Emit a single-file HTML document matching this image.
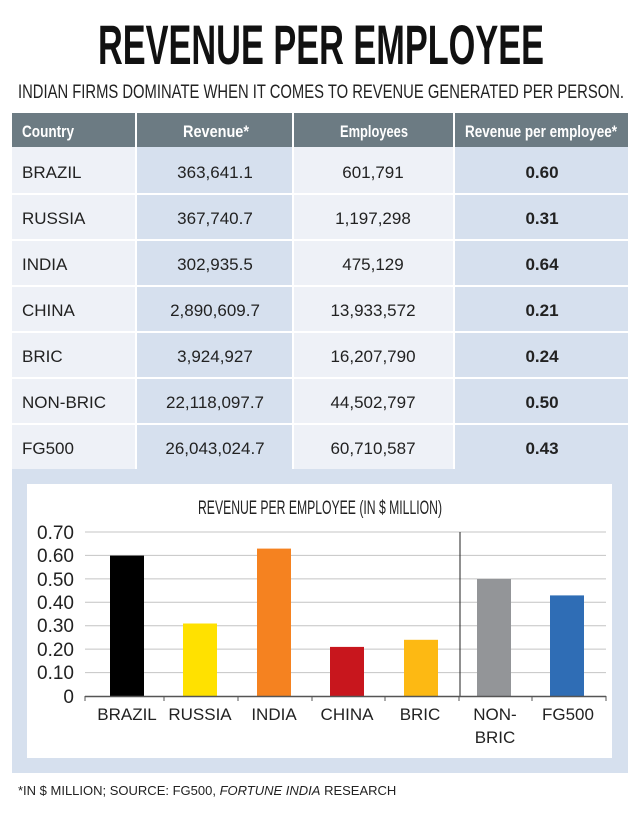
<!DOCTYPE html>
<html><head><meta charset="utf-8"><style>body{margin:0;background:#fff}svg{display:block}</style></head><body>
<svg width="640" height="821" viewBox="0 0 640 821" xmlns="http://www.w3.org/2000/svg" font-family="Liberation Sans, sans-serif">
<rect width="640" height="821" fill="#fff"/>
<text x="98" y="64" font-size="56" font-weight="bold" textLength="446" lengthAdjust="spacingAndGlyphs" fill="#111">REVENUE PER EMPLOYEE</text>
<text x="18" y="98" font-size="19" textLength="606" lengthAdjust="spacingAndGlyphs" fill="#222">INDIAN FIRMS DOMINATE WHEN IT COMES TO REVENUE GENERATED PER PERSON.</text>
<rect x="12" y="113" width="616" height="34" fill="#6c7b83"/>
<g fill="#fff" font-size="17" font-weight="bold">
<text x="22" y="137" textLength="52" lengthAdjust="spacingAndGlyphs">Country</text>
<text x="183" y="137" textLength="66" lengthAdjust="spacingAndGlyphs">Revenue*</text>
<text x="340" y="137" textLength="68" lengthAdjust="spacingAndGlyphs">Employees</text>
<text x="465" y="137" textLength="152" lengthAdjust="spacingAndGlyphs">Revenue per employee*</text>
</g>
<rect x="12" y="147" width="616" height="322" fill="#eef1f7"/>
<rect x="137" y="147" width="156" height="322" fill="#d6e0ee"/>
<rect x="455" y="147" width="173" height="322" fill="#d6e0ee"/>
<g fill="#fff">
<rect x="135" y="113" width="2" height="356"/><rect x="292" y="113" width="2" height="356"/><rect x="453" y="113" width="2" height="356"/>
<rect x="12" y="193" width="616" height="2"/><rect x="12" y="239" width="616" height="2"/><rect x="12" y="285" width="616" height="2"/><rect x="12" y="331" width="616" height="2"/><rect x="12" y="377" width="616" height="2"/><rect x="12" y="423" width="616" height="2"/>
</g>
<g font-size="17" fill="#222">
<g transform="translate(0,178)"><text x="22">BRAZIL</text><text x="215" text-anchor="middle">363,641.1</text><text x="373" text-anchor="middle">601,791</text><text x="542" text-anchor="middle" font-weight="bold">0.60</text></g>
<g transform="translate(0,224)"><text x="22">RUSSIA</text><text x="215" text-anchor="middle">367,740.7</text><text x="373" text-anchor="middle">1,197,298</text><text x="542" text-anchor="middle" font-weight="bold">0.31</text></g>
<g transform="translate(0,270)"><text x="22">INDIA</text><text x="215" text-anchor="middle">302,935.5</text><text x="373" text-anchor="middle">475,129</text><text x="542" text-anchor="middle" font-weight="bold">0.64</text></g>
<g transform="translate(0,316)"><text x="22">CHINA</text><text x="215" text-anchor="middle">2,890,609.7</text><text x="373" text-anchor="middle">13,933,572</text><text x="542" text-anchor="middle" font-weight="bold">0.21</text></g>
<g transform="translate(0,362)"><text x="22">BRIC</text><text x="215" text-anchor="middle">3,924,927</text><text x="373" text-anchor="middle">16,207,790</text><text x="542" text-anchor="middle" font-weight="bold">0.24</text></g>
<g transform="translate(0,408)"><text x="22">NON-BRIC</text><text x="215" text-anchor="middle">22,118,097.7</text><text x="373" text-anchor="middle">44,502,797</text><text x="542" text-anchor="middle" font-weight="bold">0.50</text></g>
<g transform="translate(0,454)"><text x="22">FG500</text><text x="215" text-anchor="middle">26,043,024.7</text><text x="373" text-anchor="middle">60,710,587</text><text x="542" text-anchor="middle" font-weight="bold">0.43</text></g>
</g>
<rect x="12" y="469" width="616" height="304" fill="#d6e0ee"/>
<rect x="27" y="484" width="585" height="274" fill="#fff"/>
<text x="320" y="514" font-size="19" text-anchor="middle" textLength="244" lengthAdjust="spacingAndGlyphs" fill="#222">REVENUE PER EMPLOYEE (IN $ MILLION)</text>
<g stroke="#c4c4c4" stroke-width="1">
<line x1="85" y1="532" x2="606" y2="532"/><line x1="85" y1="555.4" x2="606" y2="555.4"/><line x1="85" y1="578.9" x2="606" y2="578.9"/><line x1="85" y1="602.3" x2="606" y2="602.3"/><line x1="85" y1="625.7" x2="606" y2="625.7"/><line x1="85" y1="649.1" x2="606" y2="649.1"/><line x1="85" y1="672.6" x2="606" y2="672.6"/>
</g>
<line x1="460" y1="532" x2="460" y2="696" stroke="#222"/>
<g font-size="19" fill="#222" text-anchor="end">
<text x="74" y="539">0.70</text><text x="74" y="562">0.60</text><text x="74" y="586">0.50</text><text x="74" y="609">0.40</text><text x="74" y="632">0.30</text><text x="74" y="656">0.20</text><text x="74" y="679">0.10</text><text x="74" y="703">0</text>
</g>
<rect x="110" y="555.6" width="34" height="140.4" fill="#000"/>
<rect x="183" y="623.5" width="34" height="72.5" fill="#ffe100"/>
<rect x="257" y="548.6" width="34" height="147.4" fill="#f58220"/>
<rect x="330" y="646.9" width="34" height="49.1" fill="#c8161d"/>
<rect x="404" y="639.8" width="34" height="56.2" fill="#fdb913"/>
<rect x="477" y="579" width="34" height="117" fill="#939598"/>
<rect x="550" y="595.4" width="34" height="100.6" fill="#2f6db5"/>
<line x1="85" y1="696.5" x2="606" y2="696.5" stroke="#555" stroke-width="1.5"/>
<g stroke="#555" stroke-width="1">
<line x1="85" y1="696" x2="85" y2="701"/><line x1="164" y1="696" x2="164" y2="701"/><line x1="238" y1="696" x2="238" y2="701"/><line x1="312" y1="696" x2="312" y2="701"/><line x1="385" y1="696" x2="385" y2="701"/><line x1="459" y1="696" x2="459" y2="701"/><line x1="532" y1="696" x2="532" y2="701"/><line x1="606" y1="696" x2="606" y2="701"/>
</g>
<g font-size="17" fill="#222" text-anchor="middle">
<text x="127" y="720">BRAZIL</text><text x="200" y="720">RUSSIA</text><text x="274" y="720">INDIA</text><text x="347" y="720">CHINA</text><text x="420" y="720">BRIC</text><text x="495" y="720">NON-</text><text x="495" y="743">BRIC</text><text x="568" y="720">FG500</text>
</g>
<text x="18" y="795" font-size="13" fill="#222">*IN $ MILLION; SOURCE: FG500, <tspan font-style="italic">FORTUNE INDIA</tspan> RESEARCH</text>
</svg>
</body></html>
